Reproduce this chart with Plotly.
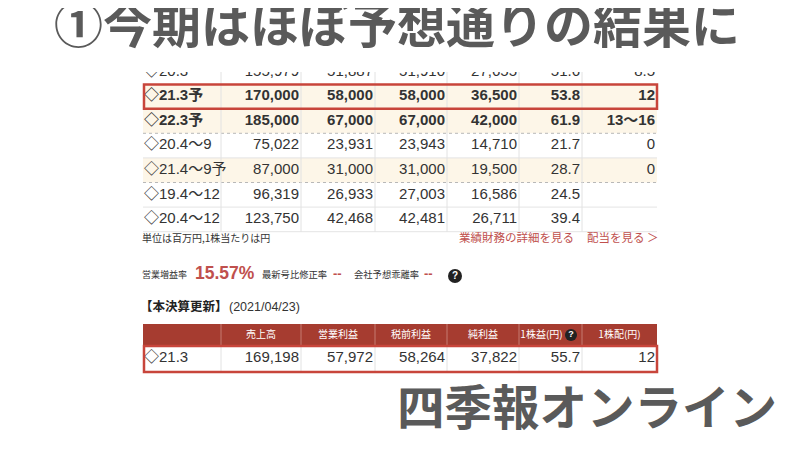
import plotly.graph_objects as go

# --- data ---
periods = ["◇20.3", "◇21.3予", "◇22.3予", "◇20.4〜9", "◇21.4〜9予", "◇19.4〜12", "◇20.4〜12"]
sales = [155979, 170000, 185000, 75022, 87000, 96319, 123750]
op_profit = [51887, 58000, 67000, 23931, 31000, 26933, 42468]
pretax = [51910, 58000, 67000, 23943, 31000, 27003, 42481]
net_profit = [27655, 36500, 42000, 14710, 19500, 16586, 26711]
eps = [51.6, 53.8, 61.9, 21.7, 28.7, 24.5, 39.4]
dividend = ["8.5", "12", "13〜16", "0", "0", "", ""]
bold_rows = [False, True, True, False, False, False, False]
cream_rows = [False, True, True, False, True, False, False]

header_cols = ["", "売上高", "営業利益", "税前利益", "純利益", "1株益(円)", "1株配(円)"]
final_period = "◇21.3"
final_values = [169198, 57972, 58264, 37822, 55.7, 12]

title = "①今期はほぼ予想通りの結果に"
source = "四季報オンライン"

# --- layout constants (screen pixels) ---
OFF = 8  # page body margin, the plot sits 8px in from the corner
col_edges = [143, 221, 301, 375, 447, 519, 582, 657]
row_top, row_h = 59.5, 24.6
clip_top = 72
RED = "#c8453b"
HEAD = "#a63c30"
LINK = "#c0504d"
NUMFONT = "Liberation Sans, Noto Sans CJK JP"
JPFONT = "Noto Sans CJK JP"


def fmt(v):
    if isinstance(v, float):
        return f"{v:.1f}"
    return f"{v:,}"


fig = go.Figure()
shapes = []

row_edges = [row_top + row_h * i for i in range(len(periods) + 1)]

# row backgrounds
for i in range(len(periods)):
    if cream_rows[i]:
        shapes.append(dict(type="rect", xref="x", yref="y", x0=col_edges[0], x1=col_edges[-1],
                           y0=max(row_edges[i], clip_top), y1=row_edges[i + 1],
                           fillcolor="#fdf6e8", line_width=0, layer="below"))

# horizontal row lines
for i in range(2, len(periods) + 1):
    dashed = i in (3, 5)
    shapes.append(dict(type="line", xref="x", yref="y", x0=col_edges[0], x1=col_edges[-1],
                       y0=row_edges[i], y1=row_edges[i],
                       line=dict(color="#b8b8b8" if dashed else "#e4e4e4", width=1,
                                 dash="dot" if dashed else "solid"), layer="below"))

# vertical lines
for x in col_edges[1:-1]:
    shapes.append(dict(type="line", xref="x", yref="y", x0=x, x1=x, y0=clip_top, y1=row_edges[-1],
                       line=dict(color="#e2e2e2", width=1), layer="below"))

# red highlight box around the 21.3予 row
shapes.append(dict(type="rect", xref="x", yref="y", x0=col_edges[0] + 1, x1=col_edges[-1],
                   y0=row_edges[1] + 0.5, y1=row_edges[2], line=dict(color=RED, width=2.5)))

# table 1 text (on a clipped subplot so the first row is cut like the screenshot)
columns = [sales, op_profit, pretax, net_profit, eps]
for i, p in enumerate(periods):
    yc = (row_edges[i] + row_edges[i + 1]) / 2
    w = "bold" if bold_rows[i] else "normal"
    fig.add_trace(go.Scatter(x=[col_edges[0] + 1], y=[yc], text=[p], mode="text",
                             textposition="middle right", xaxis="x2", yaxis="y2",
                             textfont=dict(family=NUMFONT, size=15, color="#333", weight=w),
                             cliponaxis=True, showlegend=False, hoverinfo="skip"))
    vals = [fmt(c[i]) for c in columns] + [dividend[i]]
    fig.add_trace(go.Scatter(x=[e - 2 for e in col_edges[2:]], y=[yc] * len(vals), text=vals,
                             mode="text", textposition="middle left", xaxis="x2", yaxis="y2",
                             textfont=dict(family=NUMFONT, size=15, color="#333", weight=w),
                             cliponaxis=True, showlegend=False, hoverinfo="skip"))

# --- notes under table 1 ---
def label(x, y, text, size, color="#333", pos="middle right", weight="normal", family=JPFONT):
    fig.add_trace(go.Scatter(x=[x], y=[y], text=[text], mode="text", textposition=pos,
                             textfont=dict(family=family, size=size, color=color, weight=weight),
                             cliponaxis=False, showlegend=False, hoverinfo="skip"))


label(142, 239, "単位は百万円,1株当たりは円", 10)
label(459, 239, "業績財務の詳細を見る", 11.5, LINK)
label(587, 239, "配当を見る ＞", 11.5, LINK)

ny = 276
label(142, ny, "営業増益率", 9)
label(195, ny - 1, "15.57%", 17.5, LINK, weight="bold", family=NUMFONT)
label(262, ny, "最新号比修正率", 9.3)
label(333, ny - 1, "--", 13, LINK, weight="bold", family=NUMFONT)
label(354, ny, "会社予想乖離率", 9.3)
label(424, ny - 1, "--", 13, LINK, weight="bold", family=NUMFONT)
shapes.append(dict(type="circle", xref="x", yref="y", x0=448, x1=462, y0=ny - 7, y1=ny + 7,
                   fillcolor="#222", line_width=0, layer="below"))
label(455, ny, "?", 10, "white", pos="middle center", weight="bold", family=NUMFONT)

label(140, 308, "【本決算更新】", 12.5, "#222", weight="bold")
label(229, 308, "(2021/04/23)", 12.5, "#333", family=NUMFONT)

# --- table 2 ---
h_top, h_bot, d_bot = 324, 345, 372
shapes.append(dict(type="rect", xref="x", yref="y", x0=col_edges[0], x1=col_edges[-1],
                   y0=h_top, y1=h_bot, fillcolor=HEAD, line_width=0, layer="below"))
for x in col_edges[1:-1]:
    shapes.append(dict(type="line", xref="x", yref="y", x0=x, x1=x, y0=h_top, y1=h_bot,
                       line=dict(color="#c57a70", width=1), layer="below"))
    shapes.append(dict(type="line", xref="x", yref="y", x0=x, x1=x, y0=h_bot, y1=d_bot,
                       line=dict(color="#e2e2e2", width=1), layer="below"))
shapes.append(dict(type="rect", xref="x", yref="y", x0=col_edges[0] + 1, x1=col_edges[-1],
                   y0=h_bot + 1, y1=d_bot, line=dict(color=RED, width=2.5)))

hx = [(col_edges[j] + col_edges[j + 1]) / 2 for j in range(len(header_cols))]
hx[5] -= 9
fig.add_trace(go.Scatter(x=hx, y=[335] * len(hx), text=header_cols, mode="text",
                         textposition="middle center",
                         textfont=dict(family=JPFONT, size=10, color="white"),
                         showlegend=False, hoverinfo="skip"))
shapes.append(dict(type="circle", xref="x", yref="y", x0=565, x1=577, y0=329, y1=341,
                   fillcolor="#222", line_width=0, layer="below"))
label(571, 335, "?", 9, "white", pos="middle center", weight="bold", family=NUMFONT)

yc2 = (h_bot + d_bot) / 2
label(col_edges[0] + 1, yc2, final_period, 15, family=NUMFONT)
fig.add_trace(go.Scatter(x=[e - 2 for e in col_edges[2:]], y=[yc2] * len(final_values),
                         text=[fmt(v) for v in final_values], mode="text",
                         textposition="middle left",
                         textfont=dict(family=NUMFONT, size=15, color="#333"),
                         showlegend=False, hoverinfo="skip"))

# --- big captions ---
label(397, 31, title, 49, "#5a5a5a", pos="middle center", weight="bold")
label(587, 413, source, 47.5, "#5a5a5a", pos="middle center", weight="bold")

axis_common = dict(visible=False, fixedrange=True, showgrid=False, zeroline=False)
fig.update_layout(
    width=800, height=450,
    margin=dict(l=0, r=0, t=0, b=0),
    paper_bgcolor="white", plot_bgcolor="rgba(0,0,0,0)",
    xaxis=dict(range=[OFF, 800 + OFF], domain=[0, 1], **axis_common),
    yaxis=dict(range=[450 + OFF, OFF], domain=[0, 1], **axis_common),
    xaxis2=dict(range=[OFF, 800 + OFF], domain=[0, 1], anchor="y2", **axis_common),
    yaxis2=dict(range=[450 + OFF, clip_top], domain=[0, 1 - (clip_top - OFF) / 450],
                anchor="x2", **axis_common),
    shapes=shapes,
)

fig.write_html("out.html")
